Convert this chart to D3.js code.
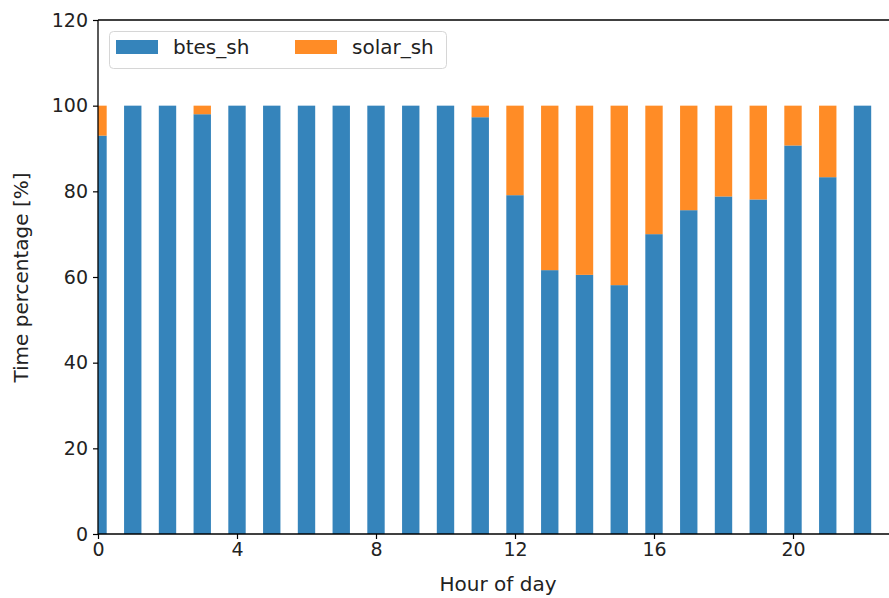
<!DOCTYPE html>
<html>
<head>
<meta charset="utf-8">
<script src="https://cdn.jsdelivr.net/npm/d3@7"></script>
<style>
  html, body { margin: 0; padding: 0; background: #fff; }
  svg { display: block; font-family: "DejaVu Sans", sans-serif; }
</style>
</head>
<body>
<svg id="chart" width="889" height="598"></svg>
<script>
// Hourly share of space heating supplied by each source
const hours = d3.range(0, 23);
const btesSh  = [93.0, 100, 100, 98.0, 100, 100, 100, 100, 100, 100, 100, 97.3,
                 79.1, 61.6, 60.5, 58.1, 70.0, 75.6, 78.8, 78.1, 90.7, 83.3, 100];
const solarSh = [7.0, 0, 0, 2.0, 0, 0, 0, 0, 0, 0, 0, 2.7,
                 20.9, 38.4, 39.5, 41.9, 30.0, 24.4, 21.2, 21.9, 9.3, 16.7, 0];
const seriesNames = ["btes_sh", "solar_sh"];
const seriesColors = ["#1f77b4", "#ff7f0e"];
const xTicks = [0, 4, 8, 12, 16, 20];
const yTicks = [0, 20, 40, 60, 80, 100, 120];

const svg = d3.select("#chart");
const plotLeft = 98, plotTop = 20, plotBottom = 534;
const hourPx = 34.75;

const x = d3.scaleLinear().domain([0, 23]).range([plotLeft, plotLeft + hourPx * 23]);
const y = d3.scaleLinear().domain([0, 120]).range([plotBottom, plotTop]);
const barW = x(0.5) - x(0);

svg.append("defs").append("clipPath").attr("id", "plot-clip")
  .append("rect").attr("x", plotLeft).attr("y", plotTop)
  .attr("width", 889 - plotLeft).attr("height", plotBottom - plotTop);

const rows = hours.map((h, i) => ({ hour: h, btes_sh: btesSh[i], solar_sh: solarSh[i] }));
const stacked = d3.stack().keys(seriesNames)(rows);

const plot = svg.append("g").attr("clip-path", "url(#plot-clip)");
stacked.forEach((layer, k) => {
  plot.append("g")
    .selectAll("rect")
    .data(layer)
    .join("rect")
    .attr("x", d => x(d.data.hour) - barW / 2)
    .attr("width", barW)
    .attr("y", d => y(d[1]))
    .attr("height", d => y(d[0]) - y(d[1]))
    .attr("fill", seriesColors[k])
    .attr("fill-opacity", 0.9);
});

// Axes
const tickFont = 19;
const labelFont = 20;
const xAxis = svg.append("g").attr("transform", `translate(0,${plotBottom})`)
  .call(d3.axisBottom(x).tickValues(xTicks).tickSize(5).tickPadding(4).tickFormat(d3.format("d")));
const yAxis = svg.append("g").attr("transform", `translate(${plotLeft},0)`)
  .call(d3.axisLeft(y).tickValues(yTicks).tickSize(5).tickPadding(5).tickFormat(d3.format("d")));
[xAxis, yAxis].forEach(a => {
  a.select(".domain").remove();
  a.selectAll("line").attr("stroke", "#000").attr("stroke-width", 1.2);
  a.selectAll("text").attr("font-size", tickFont).attr("fill", "#222")
    .attr("font-family", "DejaVu Sans");
});

// Spines
svg.append("line").attr("x1", plotLeft).attr("x2", plotLeft).attr("y1", plotTop).attr("y2", plotBottom)
  .attr("stroke", "#000").attr("stroke-width", 1.3);
svg.append("line").attr("x1", plotLeft).attr("x2", 889).attr("y1", plotBottom).attr("y2", plotBottom)
  .attr("stroke", "#000").attr("stroke-width", 1.3);
svg.append("line").attr("x1", plotLeft).attr("x2", 889).attr("y1", plotTop).attr("y2", plotTop)
  .attr("stroke", "#000").attr("stroke-width", 1.3);

// Axis labels
svg.append("text").attr("x", 498).attr("y", 591).attr("text-anchor", "middle")
  .attr("font-size", labelFont).attr("fill", "#222").text("Hour of day");
svg.append("text").attr("transform", "translate(28,277.5) rotate(-90)")
  .attr("text-anchor", "middle").attr("font-size", labelFont).attr("fill", "#222")
  .text("Time percentage [%]");

// Legend
const lg = svg.append("g");
lg.append("rect").attr("x", 109.5).attr("y", 31.5).attr("width", 337).attr("height", 37)
  .attr("rx", 4).attr("fill", "#fff").attr("fill-opacity", 0.8)
  .attr("stroke", "#d6d6d6").attr("stroke-width", 1);
const legendX = [116, 295];
seriesNames.forEach((name, k) => {
  lg.append("rect").attr("x", legendX[k]).attr("y", 40).attr("width", 42).attr("height", 14)
    .attr("fill", seriesColors[k]).attr("fill-opacity", 0.9);
  lg.append("text").attr("x", legendX[k] + 57).attr("y", 54)
    .attr("font-size", labelFont).attr("fill", "#222").text(name);
});
</script>
</body>
</html>
